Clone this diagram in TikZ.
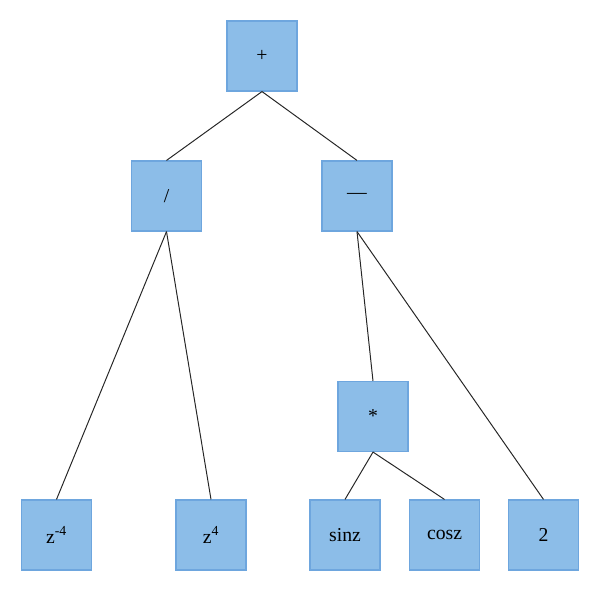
\documentclass[tikz,border=0pt]{standalone}
\usepackage{fontspec}
\setmainfont{Liberation Serif}
\usetikzlibrary{positioning}
\definecolor{boxfill}{HTML}{8CBDE8}
\definecolor{boxline}{HTML}{6EA6DE}

\begin{document}
\begin{tikzpicture}[x=0.025cm,y=-0.025cm,font=\fontsize{14}{16}\selectfont]
  \tikzset{opbox/.style={draw=boxline,fill=boxfill,line width=0.8pt,minimum size=1.75cm,inner sep=0pt},
           edge/.style={black!85,line width=0.7pt}}
  \useasboundingbox (0,0) rectangle (600,592);
  % operators
  \node[opbox] (plus)  at (262,56)    {+};
  \node[opbox] (div)   at (166.5,196) {/};
  \node[opbox] (minus) at (357,196)   {---};
  \node[opbox] (mul)   at (373,416.5) {*};
  % leaves
  \node[opbox] (zneg)  at (56.5,535)  {z\textsuperscript{-4}};
  \node[opbox] (zpos)  at (211,535)   {z\textsuperscript{4}};
  \node[opbox] (sinz)  at (345,535)   {sinz};
  \node[opbox] (cosz)  at (444.5,535) {cosz};
  \node[opbox] (two)   at (543.5,535) {2};
  % edges
  \draw[edge] (plus.south) -- (div.north);
  \draw[edge] (plus.south) -- (minus.north);
  \draw[edge] (div.south) -- (zneg.north);
  \draw[edge] (div.south) -- (zpos.north);
  \draw[edge] (minus.south) -- (mul.north);
  \draw[edge] (minus.south) -- (two.north);
  \draw[edge] (mul.south) -- (sinz.north);
  \draw[edge] (mul.south) -- (cosz.north);
\end{tikzpicture}
\end{document}
